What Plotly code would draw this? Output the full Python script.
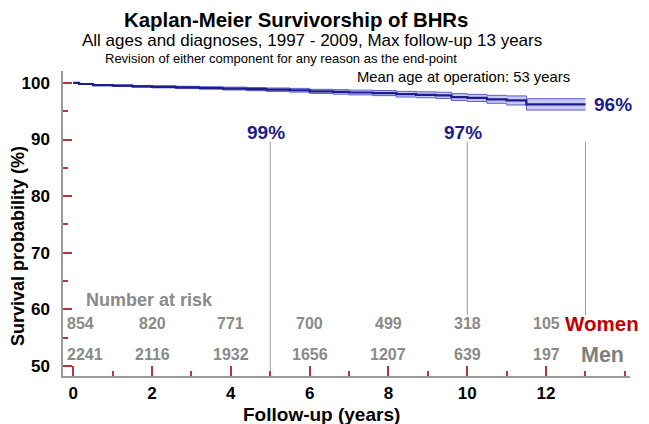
import plotly.graph_objects as go

# ---- data ----
times = [0, 0.15, 0.5, 1.0, 1.5, 2.0, 2.6, 3.2, 3.8, 4.4, 4.9, 5.5, 6.0, 6.6, 7.0, 7.6, 8.2, 8.7, 9.2, 9.6, 10.0, 10.5, 11.0, 11.5, 13.0]
survival = [100, 99.8, 99.6, 99.5, 99.4, 99.3, 99.2, 99.1, 99.0, 98.9, 98.8, 98.7, 98.5, 98.4, 98.3, 98.2, 98.0, 97.9, 97.8, 97.5, 97.35, 97.1, 96.9, 96.2, 96.2]
ci_upper = [100, 99.85, 99.7, 99.62, 99.55, 99.48, 99.4, 99.32, 99.25, 99.18, 99.1, 99.03, 98.86, 98.8, 98.72, 98.65, 98.5, 98.42, 98.35, 98.1, 97.97, 97.8, 97.7, 97.2, 97.2]
ci_lower = [100, 99.75, 99.5, 99.38, 99.25, 99.12, 99.0, 98.88, 98.75, 98.62, 98.5, 98.37, 98.14, 98.0, 97.88, 97.75, 97.5, 97.38, 97.25, 96.9, 96.73, 96.4, 96.1, 95.2, 95.2]

milestone_years = [5, 10, 13]
milestone_labels = ["99%", "97%", "96%"]
milestone_line_tops = [89.6, 89.6, 89.6]
milestone_line_bottoms = [48.23, 59.0, 59.0]

risk_years = [0, 2, 4, 6, 8, 10, 12]
women_at_risk = [854, 820, 771, 700, 499, 318, 105]
men_at_risk = [2241, 2116, 1932, 1656, 1207, 639, 197]

NAVY = "#1c1c8a"
BAND_EDGE = "#5a5ad2"
BAND_FILL = "rgba(190,190,240,0.85)"
TICK_RED = "#b8343a"
GRAY_TXT = "#8a8a8a"
FONT = "Liberation Sans, Arial, sans-serif"

fig = go.Figure()

for yr, top, bot in zip(milestone_years, milestone_line_tops, milestone_line_bottoms):
    fig.add_trace(go.Scatter(x=[yr, yr], y=[bot, top], mode="lines",
                             line=dict(color="#9a9a9a", width=1), hoverinfo="skip", showlegend=False))

fig.add_trace(go.Scatter(x=times, y=ci_lower, mode="lines", line=dict(color=BAND_EDGE, width=1, shape="hv"),
                         showlegend=False, hoverinfo="skip"))
fig.add_trace(go.Scatter(x=times, y=ci_upper, mode="lines", line=dict(color=BAND_EDGE, width=1, shape="hv"),
                         fill="tonexty", fillcolor=BAND_FILL, showlegend=False, hoverinfo="skip"))
fig.add_trace(go.Scatter(x=times, y=survival, mode="lines", line=dict(color=NAVY, width=2.2, shape="hv"),
                         showlegend=False))

L, R, T, B = 63, 19, 71, 48
W, H = 649, 424
pw, ph = W - L - R, H - T - B

def px(xp):
    return (xp - L) / pw

def py(yp):
    return (H - B - yp) / ph

ann = []
def add(text, x, y, size, color="black", bold=False, xanchor="center", xref="paper", yref="paper",
        yanchor="middle", angle=0):
    ann.append(dict(text=text, x=x, y=y, xref=xref, yref=yref, textangle=angle,
                    xanchor=xanchor, yanchor=yanchor, showarrow=False,
                    font=dict(family=FONT, size=size, color=color, weight="bold" if bold else "normal")))

add("Kaplan-Meier Survivorship of BHRs", px(122), py(20), 20.4, bold=True, xanchor="left")
add("All ages and diagnoses, 1997 - 2009, Max follow-up 13 years", px(312), py(41), 17)
add("Revision of either component for any reason as the end-point", px(281), py(58), 13)
add("Mean age at operation: 53 years", px(572), py(77), 14.8, xanchor="right")

add(milestone_labels[0], 4.9, 91.3, 19, NAVY, True, xref="x", yref="y")
add(milestone_labels[1], 9.9, 91.2, 19, NAVY, True, xref="x", yref="y")
add(milestone_labels[2], 13.17, survival[-1], 19, NAVY, True, xanchor="left", xref="x", yref="y")

add("Number at risk", 0.28, 61.7, 18, GRAY_TXT, True, xanchor="left", xref="x", yref="y")
for i, (yr, w, m) in enumerate(zip(risk_years, women_at_risk, men_at_risk)):
    xa = "left" if i == 0 else "center"
    xx = -0.2 if i == 0 else yr
    add(str(w), xx, 57.5, 16, GRAY_TXT, True, xanchor=xa, xref="x", yref="y")
    add(str(m), xx, 52.0, 16, GRAY_TXT, True, xanchor=xa, xref="x", yref="y")
add("Women", px(563), 57.5, 20.5, "#c00000", True, xanchor="left", yref="y")
add("Men", px(579), 52.0, 21.5, "#7f7f7f", True, xanchor="left", yref="y")

add("Follow-up (years)", px(321), py(414), 19, bold=True)
add("Survival probability (%)", px(18), py(246), 18, bold=True, angle=-90)

fig.update_layout(
    width=W, height=H, margin=dict(l=L, r=R, t=T, b=B, autoexpand=False),
    paper_bgcolor="white", plot_bgcolor="white",
    annotations=ann,
    xaxis=dict(range=[-0.26, 14.13], automargin=False, showgrid=False, zeroline=False, showline=True,
               linecolor="#9a9a9a", linewidth=1.5, tickmode="array", tickvals=[0, 2, 4, 6, 8, 10, 12],
               ticks="inside", ticklen=10, tickwidth=1.5, tickcolor=TICK_RED,
               tickfont=dict(family=FONT, size=17, color="black", weight="bold"), ticklabelstandoff=1,
               minor=dict(ticks="inside", dtick=1, tick0=0, ticklen=5, tickwidth=1.5, tickcolor=TICK_RED)),
    yaxis=dict(range=[48.23, 102.1], automargin=False, showgrid=False, zeroline=False, showline=True,
               linecolor="#9a9a9a", linewidth=1.5, tickmode="array", tickvals=[50, 60, 70, 80, 90, 100],
               ticks="inside", ticklen=9, tickwidth=1.5, tickcolor=TICK_RED,
               tickfont=dict(family=FONT, size=17, color="black", weight="bold"), ticklabelstandoff=8,
               minor=dict(ticks="inside", dtick=5, tick0=0, ticklen=5, tickwidth=1.5, tickcolor=TICK_RED)),
)

fig.write_html("out.html", config={"displayModeBar": False},
               post_script="document.body.style.margin='0';document.body.style.overflow='hidden';")
